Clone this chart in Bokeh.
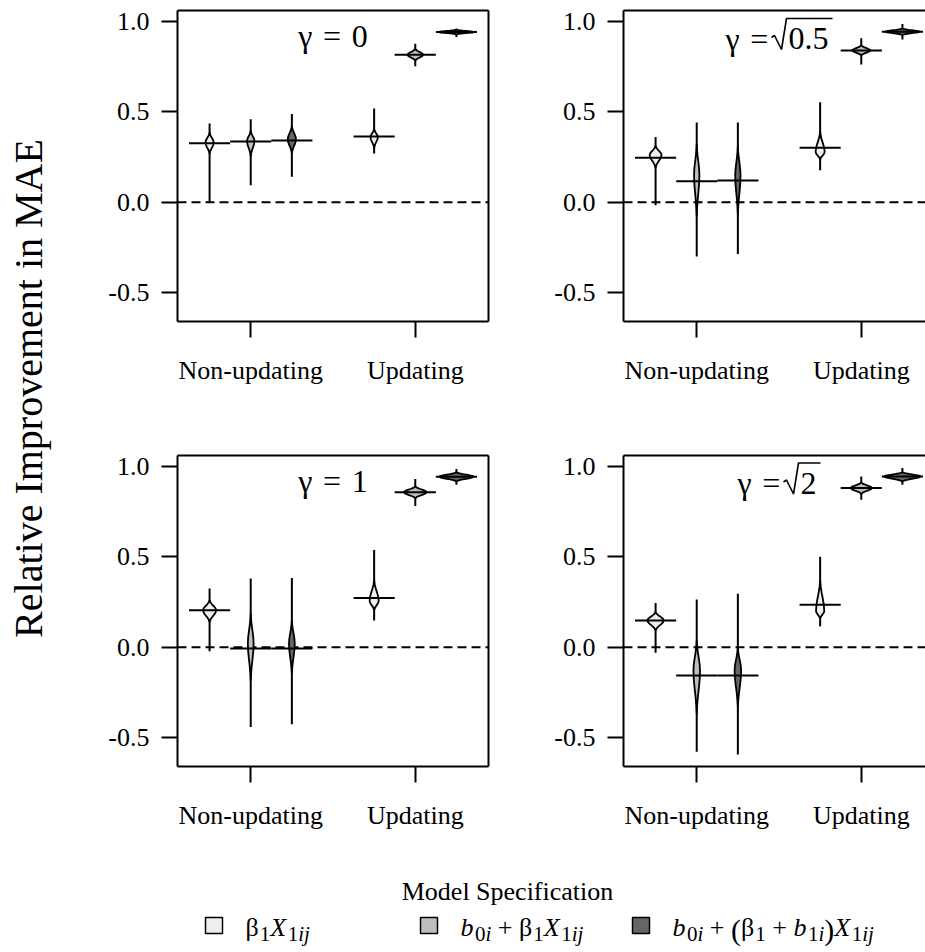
import math

from bokeh.plotting import figure
from bokeh.models import (Range1d, LinearAxis, FixedTicker, Span,
                          ColumnDataSource, PrintfTickFormatter)
from bokeh.layouts import row, column
from bokeh.embed import file_html
from bokeh.resources import INLINE
from bokeh.core.properties import value

SERIF = "Liberation Serif"

# ---- data -----------------------------------------------------------------
POSITIONS = [1, 2, 3, 5, 6, 7]          # violin slots (gap between the groups)
GROUP_TICKS = [2, 6]
GROUP_LABELS = ["Non-updating", "Updating"]
Y_TICKS = [-0.5, 0.0, 0.5, 1.0]

GAMMA_VALUES = ["0", "0.5", "1", "2"]
GAMMA_SQRT = [False, True, False, True]

SPEC_LABELS = ["β1X1ij", "b0i + β1X1ij", "b0i + (β1 + b1i)X1ij"]
SPEC_FILLS = ["#eeeeee", "#bebebe", "#666666"]

# horizontal centre line of each violin, one row per gamma panel
CENTER = [
    [0.326, 0.335, 0.341, 0.363, 0.815, 0.941],
    [0.246, 0.116, 0.120, 0.301, 0.839, 0.943],
    [0.204, -0.008, -0.008, 0.272, 0.857, 0.943],
    [0.148, -0.157, -0.157, 0.235, 0.880, 0.944],
]
# full range of each distribution
LOW = [
    [0.000, 0.093, 0.141, 0.269, 0.752, 0.913],
    [-0.017, -0.300, -0.287, 0.176, 0.761, 0.900],
    [-0.022, -0.441, -0.426, 0.148, 0.781, 0.898],
    [-0.031, -0.578, -0.593, 0.115, 0.815, 0.898],
]
HIGH = [
    [0.435, 0.459, 0.487, 0.518, 0.876, 0.959],
    [0.361, 0.441, 0.441, 0.552, 0.907, 0.985],
    [0.324, 0.380, 0.383, 0.537, 0.930, 0.985],
    [0.244, 0.263, 0.296, 0.500, 0.944, 0.991],
]
# density body: lower end, mode, upper end and half-width at the mode
BODY_LOW = [
    [0.267, 0.255, 0.270, 0.300, 0.783, 0.928],
    [0.191, -0.080, -0.070, 0.235, 0.812, 0.925],
    [0.139, -0.185, -0.148, 0.204, 0.824, 0.917],
    [0.093, -0.370, -0.333, 0.157, 0.848, 0.917],
]
PEAK = [
    [0.330, 0.339, 0.348, 0.360, 0.815, 0.941],
    [0.261, 0.150, 0.146, 0.278, 0.839, 0.943],
    [0.204, 0.019, 0.019, 0.256, 0.857, 0.943],
    [0.148, -0.130, -0.130, 0.200, 0.880, 0.944],
]
BODY_HIGH = [
    [0.385, 0.394, 0.420, 0.404, 0.848, 0.954],
    [0.311, 0.320, 0.310, 0.389, 0.867, 0.960],
    [0.259, 0.185, 0.148, 0.370, 0.889, 0.967],
    [0.194, 0.037, 0.000, 0.370, 0.911, 0.967],
]
PEAK_WIDTH = [
    [0.10, 0.09, 0.10, 0.09, 0.19, 0.44],
    [0.145, 0.065, 0.065, 0.11, 0.22, 0.42],
    [0.16, 0.07, 0.07, 0.11, 0.28, 0.42],
    [0.20, 0.08, 0.08, 0.10, 0.26, 0.45],
]

# ---- styling constants ------------------------------------------------------
X_START = 0.22
Y_START, Y_END = -0.66, 1.06
FRAME_H = 311
PX_X = 7.56 / 311.0          # x units per pixel
PX_Y = (Y_END - Y_START) / FRAME_H
# outline profile of a violin body (fraction of distance from the mode -> width factor)
PROFILE_F = [0.0, 0.2, 0.4, 0.6, 0.8, 1.0]
PROFILE_W = [1.0, 0.9, 0.65, 0.36, 0.13, 0.0]
VIOLIN_FILLS = SPEC_FILLS + SPEC_FILLS

TITLE_SIZE = 32
TITLE_OFFSETS = [25, 28, 25, 27.5]     # text anchor, px below frame top


def bare_axis(cls=LinearAxis):
    return cls(ticker=FixedTicker(ticks=[]), major_label_text_font_size="0px",
               major_tick_out=0, major_tick_in=0, minor_tick_out=0, minor_tick_in=0,
               major_label_standoff=0, axis_line_width=2, axis_line_color="black")


def violin_outline(pos, lo, mode, hi, half):
    xs, ys = [], []
    # right side, bottom to top
    for f, w in zip(reversed(PROFILE_F), reversed(PROFILE_W)):
        xs.append(pos + half * w)
        ys.append(mode - f * (mode - lo))
    for f, w in zip(PROFILE_F[1:], PROFILE_W[1:]):
        xs.append(pos + half * w)
        ys.append(mode + f * (hi - mode))
    # left side, top to bottom
    for f, w in zip(reversed(PROFILE_F), reversed(PROFILE_W)):
        xs.append(pos - half * w)
        ys.append(mode + f * (hi - mode))
    for f, w in zip(PROFILE_F[1:], PROFILE_W[1:]):
        xs.append(pos - half * w)
        ys.append(mode - f * (mode - lo))
    return xs, ys


def make_panel(k, left_col, width, border_left, border_right, border_top, border_bottom):
    x_end = X_START + (width - border_left - border_right) * PX_X
    p = figure(width=width, height=border_top + FRAME_H + border_bottom,
               x_range=Range1d(X_START, x_end), y_range=Range1d(Y_START, Y_END),
               toolbar_location=None, output_backend="svg",
               min_border_left=border_left, min_border_right=border_right,
               min_border_top=border_top, min_border_bottom=border_bottom,
               x_axis_location="below", y_axis_location="left")
    p.outline_line_color = None
    p.grid.visible = False
    p.background_fill_color = "white"
    p.border_fill_color = "white"

    yax = p.yaxis[0]
    yax.ticker = FixedTicker(ticks=Y_TICKS)
    yax.formatter = PrintfTickFormatter(format="%.1f")
    xax = p.xaxis[0]
    xax.ticker = FixedTicker(ticks=GROUP_TICKS)
    xax.major_label_overrides = {t: lab for t, lab in zip(GROUP_TICKS, GROUP_LABELS)}
    for ax, standoff in ((yax, 12), (xax, 18)):
        ax.major_label_text_font = SERIF
        ax.major_label_text_font_size = "26px"
        ax.major_label_text_color = "black"
        ax.major_tick_out = 16
        ax.major_tick_in = 0
        ax.minor_tick_out = 0
        ax.minor_tick_in = 0
        ax.major_tick_line_width = 2
        ax.axis_line_width = 2
        ax.axis_line_color = "black"
        ax.major_tick_line_color = "black"
        ax.major_label_standoff = standoff
    xax.major_label_orientation = "horizontal"

    p.add_layout(bare_axis(), "above")
    if left_col:
        p.add_layout(bare_axis(), "right")

    p.add_layout(Span(location=0, dimension="width", line_color="black",
                      line_width=2, line_dash="9 5", level="underlay"))

    # whiskers
    p.segment(x0=POSITIONS, y0=LOW[k], x1=POSITIONS, y1=HIGH[k],
              line_color="black", line_width=2)
    # violin bodies
    xs, ys = [], []
    for i, pos in enumerate(POSITIONS):
        vx, vy = violin_outline(pos, BODY_LOW[k][i], PEAK[k][i], BODY_HIGH[k][i],
                                PEAK_WIDTH[k][i])
        xs.append(vx)
        ys.append(vy)
    p.patches(xs="xs", ys="ys", fill_color="fill", line_color="black", line_width=1.8,
              source=ColumnDataSource(dict(xs=xs, ys=ys, fill=VIOLIN_FILLS)))
    # centre lines
    p.segment(x0=[x - 0.5 for x in POSITIONS], y0=CENTER[k],
              x1=[x + 0.5 for x in POSITIONS], y1=CENTER[k],
              line_color="black", line_width=2)

    # panel title
    xc = (X_START + X_START + 7.56) / 2.0
    yb = Y_END - TITLE_OFFSETS[k] * PX_Y
    if not GAMMA_SQRT[k]:
        p.text(x=[xc], y=[yb], text=["γ\u2004=\u2004" + GAMMA_VALUES[k]],
               text_font=value(SERIF), text_font_size=f"{TITLE_SIZE}px",
               text_align="center", text_baseline="alphabetic", text_color="black")
    else:
        digits_w = sum(0.25 if c == "." else 0.5 for c in GAMMA_VALUES[k]) * TITLE_SIZE
        total = 63 + digits_w + 4
        x0 = xc - total / 2.0 * PX_X
        p.text(x=[x0], y=[yb], text=["γ\u2004="],
               text_font=value(SERIF), text_font_size=f"{TITLE_SIZE}px",
               text_align="left", text_baseline="alphabetic", text_color="black")
        p.text(x=[x0 + 63 * PX_X], y=[yb], text=[GAMMA_VALUES[k]],
               text_font=value(SERIF), text_font_size=f"{TITLE_SIZE}px",
               text_align="left", text_baseline="alphabetic", text_color="black")
        # radical sign drawn as strokes, measured from the text anchor
        rx = [46, 49, 56, 61, total]
        ry = [1.0, 3.0, -11.0, 20.0, 20.0]
        p.line(x=[x0 + r * PX_X for r in rx], y=[yb + r * PX_Y for r in ry],
               line_color="black", line_width=1.6)
    return p


f1 = make_panel(0, True, 480, 117, 52, 10, 80)
f2 = make_panel(1, False, 385, 83, 0, 10, 80)
f3 = make_panel(2, True, 480, 117, 52, 54, 69)
f4 = make_panel(3, False, 385, 83, 0, 54, 69)

# ---- y-axis title -----------------------------------------------------------
GRID_H = (10 + FRAME_H + 80) + (54 + FRAME_H + 69)
ylab = figure(width=60, height=GRID_H, x_range=Range1d(0, 60), y_range=Range1d(GRID_H, 0),
              toolbar_location=None, output_backend="svg",
              x_axis_location=None, y_axis_location=None, min_border=0)
ylab.outline_line_color = None
ylab.grid.visible = False
ylab.text(x=[28], y=[388], text=["Relative Improvement in MAE"], angle=math.pi / 2,
          text_font=value(SERIF), text_font_size="40px", text_align="center",
          text_baseline="middle", text_color="black")

# ---- legend -----------------------------------------------------------------
LEG_H = 952 - GRID_H
leg = figure(width=925, height=LEG_H, x_range=Range1d(0, 925), y_range=Range1d(LEG_H, 0),
             toolbar_location=None, output_backend="svg",
             x_axis_location=None, y_axis_location=None, min_border=0)
leg.outline_line_color = None
leg.grid.visible = False

leg.text(x=[507], y=[56], text=["Model Specification"], text_font=value(SERIF),
         text_font_size="26px", text_align="center", text_baseline="alphabetic",
         text_color="black")

BOX_X = [205, 420, 632]
leg.quad(left=BOX_X, right=[b + 17 for b in BOX_X], top=[82] * 3, bottom=[98] * 3,
         fill_color=SPEC_FILLS, line_color="black", line_width=1.5)

UPRIGHT_EM = {"0": 0.5, "1": 0.5, "+": 0.564, "(": 0.333, ")": 0.333, " ": 0.25, "β": 0.55}
ITALIC_EM = {"b": 0.5, "X": 0.611, "i": 0.278, "j": 0.278}
MAIN, SUB, SUB_DY = 26, 21, 6


def label_runs(label):
    """Split a spec label into main / subscript runs (digits after a symbol are subscripts)."""
    runs = []
    i = 0
    while i < len(label):
        c = label[i]
        if c in "bX":
            runs.append((c, True, MAIN, 0))
            i += 1
            j = i
            while j < len(label) and label[j].isdigit():
                j += 1
            if j > i:
                runs.append((label[i:j], False, SUB, SUB_DY))
            k = j
            while k < len(label) and label[k] in "ij":
                k += 1
            if k > j:
                runs.append((label[j:k], True, SUB, SUB_DY))
            i = k
        elif c == "β":
            runs.append((c, False, MAIN, 0))
            i += 1
            if i < len(label) and label[i].isdigit():
                runs.append((label[i], False, SUB, SUB_DY))
                i += 1
        elif c in "()":
            runs.append((c, False, 30, 2))
            i += 1
        else:
            runs.append((c, False, MAIN, 0))
            i += 1
    return runs


TEXT_X = [245, 460, 672]
TEXT_Y = 92
for label, x in zip(SPEC_LABELS, TEXT_X):
    for txt, italic, size, dy in label_runs(label):
        if txt.strip():
            leg.text(x=[x], y=[TEXT_Y + dy], text=[txt], text_font=value(SERIF),
                     text_font_size=f"{size}px",
                     text_font_style="italic" if italic else "normal",
                     text_align="left", text_baseline="alphabetic", text_color="black")
        table = ITALIC_EM if italic else UPRIGHT_EM
        x += sum(table.get(ch, 0.5) for ch in txt) * size + (1.5 if italic and size == MAIN else 0)

layout = column(row(ylab, column(row(f1, f2), row(f3, f4))), leg)

open("out.html", "w").write(file_html(layout, INLINE))
